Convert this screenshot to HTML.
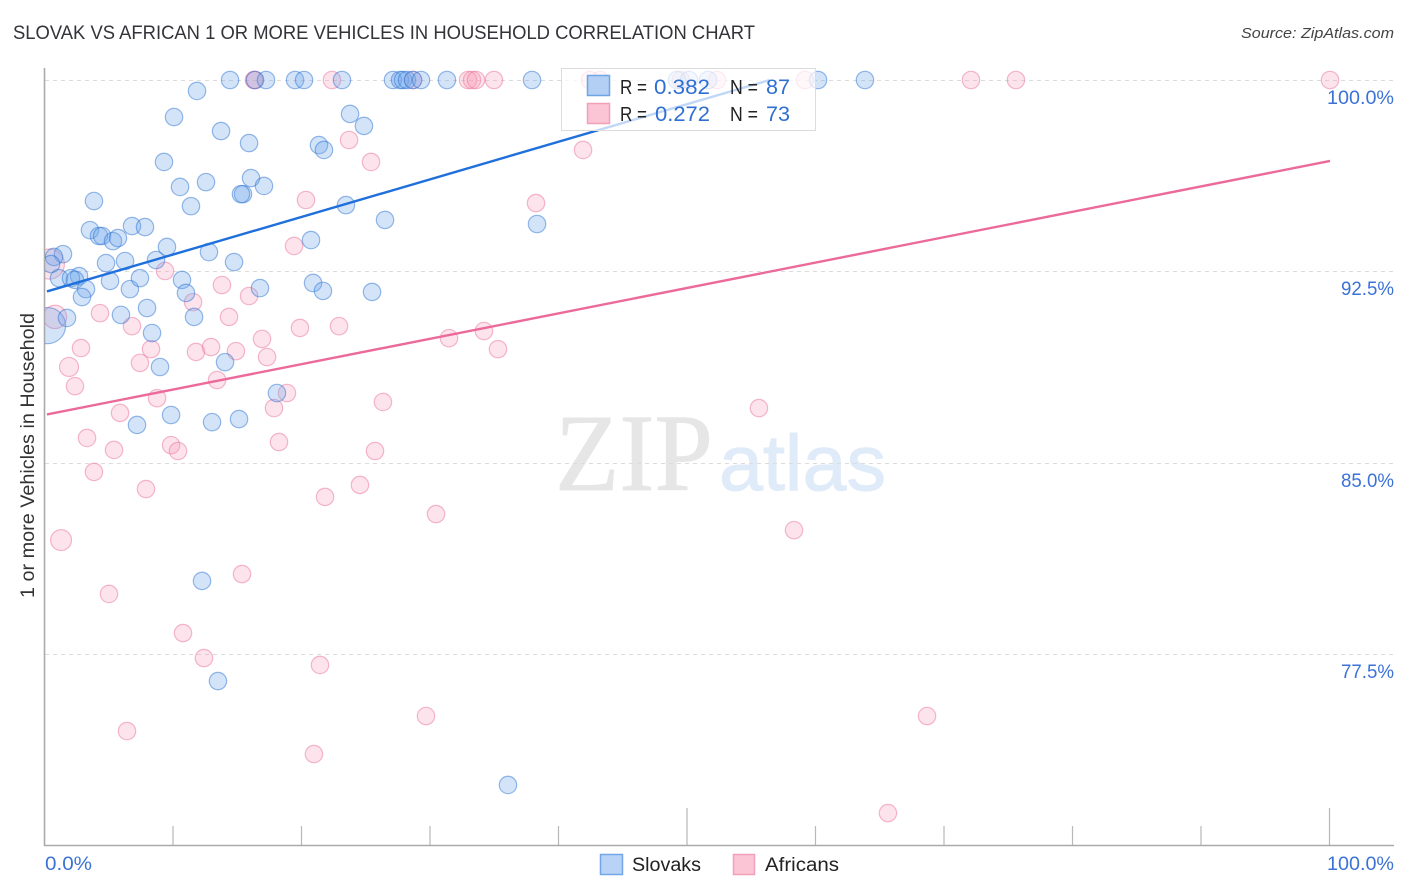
<!DOCTYPE html>
<html lang="en">
<head>
<meta charset="utf-8">
<title>Slovak vs African 1 or More Vehicles in Household Correlation Chart</title>
<style>
html,body{margin:0;padding:0;background:#fff;}
svg{display:block;font-family:"Liberation Sans",sans-serif;}
</style>
</head>
<body>
<svg id="chart" xmlns="http://www.w3.org/2000/svg" width="1406" height="892" viewBox="0 0 1406 892">
  <defs>
    <clipPath id="plot-clip"><rect x="45" y="40" width="1361" height="806"/></clipPath>
  </defs>
  <rect x="0" y="0" width="1406" height="892" fill="#ffffff"/>
  <text x="13" y="39" font-size="19" fill="#33333a" textLength="742" lengthAdjust="spacingAndGlyphs">SLOVAK VS AFRICAN 1 OR MORE VEHICLES IN HOUSEHOLD CORRELATION CHART</text>
  <text x="1241" y="38" font-size="15" font-style="italic" fill="#444444" textLength="153" lengthAdjust="spacingAndGlyphs">Source: ZipAtlas.com</text>
  <text x="555" y="490" font-family="'Liberation Serif',serif" font-size="110" fill="#e6e6e6" stroke="#e6e6e6" stroke-width="0.8" textLength="158" lengthAdjust="spacingAndGlyphs">ZIP</text>
  <text x="719" y="490" font-size="79" fill="#e0ebf9" stroke="#e0ebf9" stroke-width="1" textLength="167" lengthAdjust="spacingAndGlyphs">atlas</text>
  <g id="grid"></g>
  <g id="axes"></g>
  <text transform="translate(34,598) rotate(-90)" font-size="19" fill="#333333" textLength="285" lengthAdjust="spacingAndGlyphs">1 or more Vehicles in Household</text>
  <g id="africans-points" clip-path="url(#plot-clip)"></g>
  <g id="slovaks-points" clip-path="url(#plot-clip)"></g>
  <g id="trend-lines"></g>
  <g>
    <rect x="561.5" y="68.5" width="254" height="62" fill="#ffffff" fill-opacity="0.72" stroke="#dcdcdc" stroke-width="1"/>
    <rect x="587.5" y="75.5" width="22" height="20" fill="#b4cff4" stroke="#6ea5e6" stroke-width="1.5"/>
    <rect x="587.5" y="103.5" width="22" height="20" fill="#fcc5d6" stroke="#f0a0b8" stroke-width="1.5"/>
    <text x="620" y="94" font-size="20" fill="#222222" textLength="27" lengthAdjust="spacingAndGlyphs">R =</text>
    <text x="654" y="94" font-size="21" fill="#2f6fd2" textLength="56" lengthAdjust="spacingAndGlyphs">0.382</text>
    <text x="730" y="94" font-size="20" fill="#222222" textLength="28" lengthAdjust="spacingAndGlyphs">N =</text>
    <text x="766" y="94" font-size="21" fill="#2f6fd2" textLength="24" lengthAdjust="spacingAndGlyphs">87</text>
    <text x="620" y="121" font-size="20" fill="#222222" textLength="27" lengthAdjust="spacingAndGlyphs">R =</text>
    <text x="655" y="121" font-size="21" fill="#2f6fd2" textLength="55" lengthAdjust="spacingAndGlyphs">0.272</text>
    <text x="730" y="121" font-size="20" fill="#222222" textLength="28" lengthAdjust="spacingAndGlyphs">N =</text>
    <text x="766" y="121" font-size="21" fill="#2f6fd2" textLength="24" lengthAdjust="spacingAndGlyphs">73</text>
  </g>
  <g>
    <rect x="600.5" y="854.5" width="22" height="20" fill="#b8d3f6" stroke="#72a6e6" stroke-width="1.5"/>
    <text x="632" y="871" font-size="19" fill="#222222" textLength="69" lengthAdjust="spacingAndGlyphs">Slovaks</text>
    <rect x="733.5" y="854.5" width="21" height="20" fill="#fcc5d6" stroke="#f0a0b8" stroke-width="1.5"/>
    <text x="765" y="871" font-size="19" fill="#222222" textLength="74" lengthAdjust="spacingAndGlyphs">Africans</text>
  </g>
</svg>
<script>
const xTicks = [10, 20, 30, 40, 50, 60, 70, 80, 90, 100];
const xMajorTicks = [50, 100];
const xTickLabels = ["0.0%", "100.0%"];
const yTicks = [100, 92.5, 85, 77.5];
const yTickLabels = ["100.0%", "92.5%", "85.0%", "77.5%"];

const slovakX = [0.20,14.40,16.34,17.20,19.46,20.16,23.11,27.08,27.63,27.86,28.17,28.64,29.26,31.28,37.90,49.18,50.12,51.60,60.16,63.81,
  11.83,10.04,13.70,15.88,23.74,24.82,21.32,21.71,9.26,10.51,12.53,16.03,17.04,15.41,15.25,11.36,23.42,26.46,3.81,3.50,4.20,4.44,5.29,5.68,6.77,7.78,9.49,20.70,
  1.40,0.70,0.47,4.75,6.23,8.64,12.76,14.71,1.09,2.65,2.02,2.33,3.19,2.88,5.06,6.61,7.39,10.66,10.97,16.73,20.86,21.63,25.45,
  7.94,5.91,11.60,1.71,8.33,8.95,14.01,18.05,7.16,9.81,13.00,15.10,12.22,13.46,36.03,38.29];
const slovakY = [90.38,100,100,100,100,100,100,100,100,100,100,100,100,100,100,100,100,100,100,100,
  99.57,98.55,98.00,97.53,98.67,98.20,97.45,97.26,96.79,95.81,96.00,96.16,95.85,95.53,95.53,95.06,95.10,94.52,95.26,94.12,93.89,93.89,93.69,93.81,94.28,94.24,93.46,93.73,
  93.18,93.07,92.79,92.83,92.91,92.95,93.26,92.87,92.24,92.32,92.24,92.17,91.81,91.50,92.13,91.81,92.24,92.17,91.66,91.85,92.05,91.74,91.70,
  91.07,90.80,90.72,90.68,90.09,88.76,88.95,87.74,86.49,86.88,86.60,86.72,80.38,76.46,72.39,94.36];
const slovakWeights = [4.3];

const africanX = [0.34,0.78,1.25,1.87,16.34,16.26,22.33,28.64,32.92,33.23,33.54,34.94,42.41,43.19,49.49,52.30,59.14,72.06,75.56,100,
  23.66,25.37,20.31,38.21,41.87,19.38,9.34,13.77,15.88,11.52,14.32,19.84,22.88,6.77,4.28,2.80,2.33,8.25,7.39,11.75,12.92,14.86,13.39,8.72,16.89,17.28,
  31.44,34.16,35.25,26.30,18.83,17.82,5.84,3.27,5.37,9.81,10.35,18.21,25.68,3.81,7.86,21.79,24.51,30.43,
  4.98,15.33,10.74,12.37,21.40,29.65,68.64,6.38,20.93,65.60,58.29,55.56];
const africanY = [92.79,90.72,81.98,88.76,100,100,100,100,100,100,100,100,100,100,100,100,100,100,100,100,
  97.65,96.79,95.30,95.18,97.26,93.50,92.52,91.97,91.54,91.30,90.72,90.29,90.36,90.36,90.87,89.50,88.01,89.46,88.92,89.35,89.54,89.38,88.25,87.54,89.86,89.15,
  89.89,90.17,89.46,87.39,87.74,87.15,86.96,85.98,85.51,85.70,85.47,85.82,85.47,84.65,83.98,83.67,84.14,83.00,
  79.87,80.65,78.34,77.36,77.09,75.09,75.09,74.50,73.60,71.29,82.37,87.15];
const africanWeights = [3.0, 1.8, 1.45, 1.2];

const slovakTrendX = [0.15, 56.4];
const slovakTrendY = [91.72, 100];
const africanTrendX = [0.15, 100];
const africanTrendY = [86.9, 96.83];

const NS = 'http://www.w3.org/2000/svg';
function xScale(v) { return 45 + v * 12.85; }
function yScale(v) { return 80 + (100 - v) * 25.533; }
function node(tag, attrs, parent) {
  const el = document.createElementNS(NS, tag);
  for (const k in attrs) el.setAttribute(k, attrs[k]);
  parent.appendChild(el);
  return el;
}

const grid = document.getElementById('grid');
const axes = document.getElementById('axes');

yTicks.forEach(function (t, i) {
  const py = Math.round(yScale(t)) + 0.5;
  const g = node('line', {x1: 45, x2: 1394, y1: py, y2: py, stroke: '#dcdcdc', 'stroke-width': 1, 'stroke-dasharray': '4 4'}, grid);
  
  
  const lbl = node('text', {x: 1394, y: py + 23.5, 'font-size': 19, fill: '#3c72d6', 'text-anchor': 'end', textLength: yTickLabels[i].length === 6 ? 67 : 53, lengthAdjust: 'spacingAndGlyphs'}, axes);
  
  
  lbl.textContent = yTickLabels[i];
});

xTicks.forEach(function (t) {
  const px = xScale(t) - 0.5;
  const top = xMajorTicks.indexOf(t) >= 0 ? 808 : 826;
  const tick = node('line', {x1: px, x2: px, y1: top, y2: 846, stroke: '#b8b8b8', 'stroke-width': 1.2}, axes);
  
  
});

const yAxis = node('line', {x1: 44.5, x2: 44.5, y1: 68, y2: 846, stroke: '#aaaaaa', 'stroke-width': 1.6}, axes);


const xAxis = node('line', {x1: 44, x2: 1394, y1: 845.5, y2: 845.5, stroke: '#aaaaaa', 'stroke-width': 1.6}, axes);



const xLabelLeft = node('text', {x: 45, y: 870, 'font-size': 19, fill: '#3c72d6', textLength: 47, lengthAdjust: 'spacingAndGlyphs'}, axes);


xLabelLeft.textContent = xTickLabels[0];
const xLabelRight = node('text', {x: 1394, y: 870, 'font-size': 19, fill: '#3c72d6', 'text-anchor': 'end', textLength: 67, lengthAdjust: 'spacingAndGlyphs'}, axes);


xLabelRight.textContent = xTickLabels[1];

const africanGroup = document.getElementById('africans-points');
africanX.forEach(function (v, i) {
  const w = africanWeights[i] || 1;
  const c = node('circle', {cx: xScale(v), cy: yScale(africanY[i]), r: 8.7 * Math.sqrt(w), fill: 'rgba(246,150,180,0.27)', stroke: 'rgba(232,110,150,0.48)', 'stroke-width': 1.2}, africanGroup);
  
  
});

const slovakGroup = document.getElementById('slovaks-points');
slovakX.forEach(function (v, i) {
  const w = slovakWeights[i] || 1;
  const c = node('circle', {cx: xScale(v), cy: yScale(slovakY[i]), r: 8.7 * Math.sqrt(w), fill: 'rgba(110,165,235,0.3)', stroke: 'rgba(40,110,210,0.48)', 'stroke-width': 1.2}, slovakGroup);
  
  
});

const trends = document.getElementById('trend-lines');
const slovakLine = node('line', {x1: xScale(slovakTrendX[0]), y1: yScale(slovakTrendY[0]), x2: xScale(slovakTrendX[1]), y2: yScale(slovakTrendY[1]), stroke: '#1f6fdc', 'stroke-width': 2.4}, trends);


const africanLine = node('line', {x1: xScale(africanTrendX[0]), y1: yScale(africanTrendY[0]), x2: xScale(africanTrendX[1]), y2: yScale(africanTrendY[1]), stroke: '#ec6a9a', 'stroke-width': 2.4}, trends);


</script>
</body>
</html>
